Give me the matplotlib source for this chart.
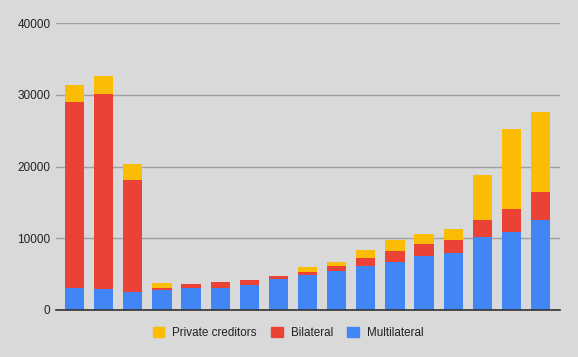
import matplotlib
matplotlib.use("Agg")
import matplotlib.pyplot as plt
import numpy as np
from matplotlib.patches import Patch

plt.rcParams['font.family'] = ['Liberation Sans', 'DejaVu Sans']

multilateral = [3000, 2880, 2560, 2790, 3110, 3110, 3490, 4280, 4880, 5400,
                6190, 6700, 7530, 7910, 10140, 10930, 12560]
bilateral = [25930, 27210, 15490, 320, 510, 750, 690, 510, 460, 790,
             1110, 1530, 1630, 1900, 2370, 3160, 3860]
private = [2370, 2470, 2280, 700, 40, 20, 0, 0, 610, 550,
           1070, 1490, 1440, 1490, 6330, 11170, 11110]
yticks = [0, 10000, 20000, 30000, 40000]

c_multi = '#4285F4'
c_bil = '#EA4335'
c_priv = '#FBBC04'
bg = '#d9d9d9'

fig = plt.figure(figsize=(5.78, 3.57), dpi=100, facecolor=bg)
ax = fig.add_axes([56/578, 1 - 310/357, (560-56)/578, (310-23)/357])
ax.set_facecolor(bg)

x = np.arange(len(multilateral))
m = np.array(multilateral)
b = np.array(bilateral)
p = np.array(private)
w = 0.66
ax.bar(x, m, width=w, color=c_multi, zorder=3, label='Multilateral')
ax.bar(x, b, width=w, bottom=m, color=c_bil, zorder=3, label='Bilateral')
ax.bar(x, p, width=w, bottom=m + b, color=c_priv, zorder=3, label='Private creditors')

ax.set_ylim(0, 40000)
ax.set_xlim(-0.64, len(x) - 1 + 0.67)
ax.set_yticks(yticks)
ax.set_yticklabels([str(v) for v in yticks], fontsize=8.5, color='#222222')
ax.set_xticks([])
ax.tick_params(axis='y', length=0, pad=4)
ax.grid(axis='y', color='#a0a0a0', linewidth=1, zorder=0)
for s in ['top', 'right', 'left']:
    ax.spines[s].set_visible(False)
ax.spines['bottom'].set_color('#333333')
ax.spines['bottom'].set_linewidth(1.2)
ax.spines['bottom'].set_zorder(4)

handles = [Patch(color=c_priv), Patch(color=c_bil), Patch(color=c_multi)]
labels = ['Private creditors', 'Bilateral', 'Multilateral']
fig.legend(handles, labels, loc='center', bbox_to_anchor=(288/578, 1 - 333/357),
           ncol=3, frameon=False, fontsize=8.4, handlelength=1.0, handleheight=1.0,
           handletextpad=0.7, columnspacing=1.2, labelcolor='#222222')

fig.savefig('out.png', dpi=100, facecolor=bg)
